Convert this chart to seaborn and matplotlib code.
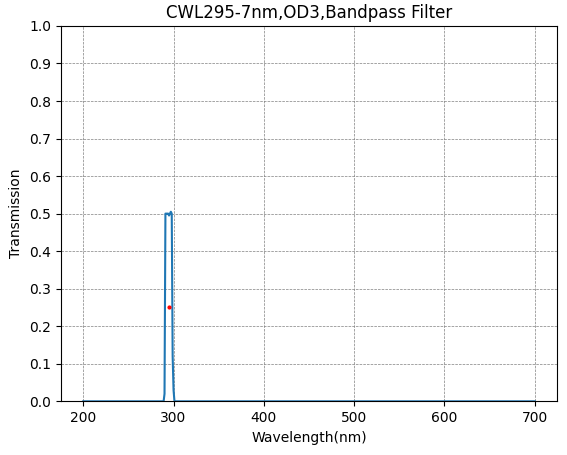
import matplotlib
matplotlib.use("Agg")
import matplotlib.pyplot as plt
import seaborn as sns
import pandas as pd

wl = [200, 289, 290, 291, 292, 293, 294, 295, 296, 297, 298, 299, 300, 301, 700]
tr = [0.0, 0.0, 0.02, 0.50, 0.50, 0.50, 0.50, 0.495, 0.50, 0.505, 0.50, 0.12, 0.03, 0.0, 0.0]
cwl_x = [295]
cwl_y = [0.25]

df = pd.DataFrame({"Wavelength": wl, "Transmission": tr})
fig, ax = plt.subplots(figsize=(5.67, 4.55), dpi=100)
sns.lineplot(data=df, x="Wavelength", y="Transmission", ax=ax, color="#1f77b4", linewidth=1.5)
ax.scatter(cwl_x, cwl_y, color="red", s=4, zorder=3)
ax.set_ylim(0, 1)
ax.set_yticks([i / 10 for i in range(11)])
ax.set_xticks([200, 300, 400, 500, 600, 700])
ax.grid(True, linestyle="--", color="gray", linewidth=0.5)
ax.set_xlabel("Wavelength(nm)")
ax.set_ylabel("Transmission")
ax.set_title("CWL295-7nm,OD3,Bandpass Filter")
fig.subplots_adjust(left=0.107, right=0.983, top=0.943, bottom=0.118)
fig.savefig("out.png")
